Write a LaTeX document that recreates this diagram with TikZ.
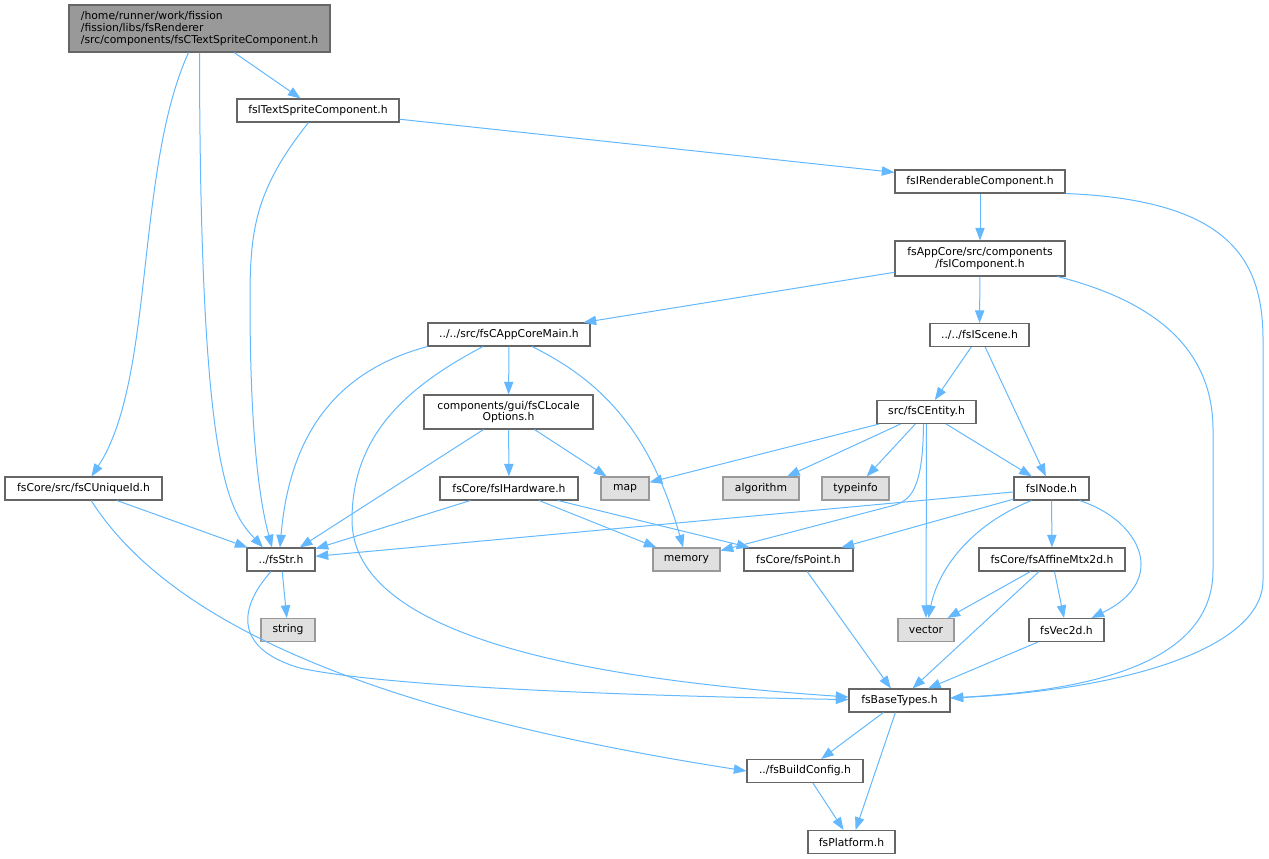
\documentclass[tikz,border=0pt]{standalone}
\usepackage{fontspec}
\setmainfont{DejaVu Sans}
\usetikzlibrary{arrows.meta,calc}
\definecolor{edgeBlue}{HTML}{63B8FF}
\tikzset{
  hdr/.style={rectangle, draw=black!60, fill=white, line width=0.8pt, minimum height=17.25pt, inner sep=1pt, font=\fontsize{8.1}{8.8}\selectfont},
  sys/.style={hdr, draw=black!40, fill=black!12},
  inc/.style={-{Triangle[length=9.5pt,width=7pt]}, draw=edgeBlue, line width=0.75pt},
}
\begin{document}
\begin{tikzpicture}[x=0.75pt,y=-0.75pt]
\useasboundingbox (0,0) rectangle (1269,859);

% files
\node[hdr, fill=black!40, minimum width=195.75pt, minimum height=35.25pt, align=left] (main) at (199.5,28.5) {/home/runner/work/fission\\/fission/libs/fsRenderer\\/src/components/fsCTextSpriteComponent.h};
\node[hdr, minimum width=121.5pt] (textSprite) at (318,110.5) {fsITextSpriteComponent.h};
\node[hdr, minimum width=127.5pt] (renderable) at (980,181.5) {fsIRenderableComponent.h};
\node[hdr, minimum width=127.5pt, minimum height=26.25pt, align=center] (component) at (980,258.5) {fsAppCore/src/components\\/fsIComponent.h};
\node[hdr, minimum width=74.25pt] (scene) at (979.5,335) {../../fsIScene.h};
\node[hdr, minimum width=121.5pt] (appCoreMain) at (509,334.5) {../../src/fsCAppCoreMain.h};
\node[hdr, minimum width=126.75pt, minimum height=25.5pt, align=center] (localeOpts) at (508.5,412) {components/gui/fsCLocale\\Options.h};
\node[hdr, minimum width=74.25pt] (entity) at (926.5,412) {src/fsCEntity.h};
\node[hdr, minimum width=103.5pt] (hardware) at (509,488.5) {fsCore/fsIHardware.h};
\node[sys, minimum width=36pt] (map) at (625,488.5) {map};
\node[sys, minimum width=57pt] (algorithm) at (761,488.5) {algorithm};
\node[sys, minimum width=50.25pt] (typeinfo) at (855.5,488.5) {typeinfo};
\node[hdr, minimum width=56.25pt] (inode) at (1051.5,488.5) {fsINode.h};
\node[hdr, minimum width=117.75pt] (uniqueId) at (83.5,488.5) {fsCore/src/fsCUniqueId.h};
\node[hdr, minimum width=51pt] (str) at (281,559.5) {../fsStr.h};
\node[sys, minimum width=50.25pt] (memory) at (686.5,559.5) {memory};
\node[hdr, minimum width=81.75pt] (point) at (798.5,559.5) {fsCore/fsPoint.h};
\node[hdr, minimum width=109.5pt] (affine) at (1052,559.5) {fsCore/fsAffineMtx2d.h};
\node[sys, minimum width=40.5pt] (string) at (288,630) {string};
\node[sys, minimum width=42pt] (vector) at (926,630) {vector};
\node[hdr, minimum width=56.25pt] (vec2d) at (1066.5,630) {fsVec2d.h};
\node[hdr, minimum width=75.75pt] (baseTypes) at (899.5,700.5) {fsBaseTypes.h};
\node[hdr, minimum width=87pt] (buildConfig) at (805,771) {../fsBuildConfig.h};
\node[hdr, minimum width=65.25pt] (platform) at (851.5,842) {fsPlatform.h};

% includes
\draw[inc] (main) -- (textSprite);
\draw[inc] (main.south) .. controls (200,470) and (228,510) .. ($(str.north)+(-18,0)$);
\draw[inc] (main) .. controls (135,170) and (155,380) .. (uniqueId);
\draw[inc] (textSprite) .. controls (255,190) and (250,230) .. (250,300) .. controls (250,450) and (262,510) .. ($(str.north)+(-9,0)$);
\draw[inc] (textSprite) -- (renderable);
\draw[inc] (renderable) -- (component);
\draw[inc] (renderable.south east) .. controls (1230,200) and (1263,260) .. (1263,340) -- (1263,580) .. controls (1263,650) and (1120,690) .. (baseTypes);
\draw[inc] (component) -- (appCoreMain);
\draw[inc] (component) -- (scene);
\draw[inc] ($(component.south east)+(-8,0)$) .. controls (1170,305) and (1213,360) .. (1213,430) -- (1213,570) .. controls (1213,660) and (1100,690) .. (baseTypes);
\draw[inc] (appCoreMain.south west) .. controls (340,370) and (290,430) .. ($(str.north)+(-1,0)$);
\draw[inc] (appCoreMain) -- (localeOpts);
\draw[inc] ($(appCoreMain.south)+(-26,0)$) .. controls (400,390) and (352,440) .. (352,520) .. controls (352,640) and (600,680) .. (baseTypes);
\draw[inc] ($(appCoreMain.south)+(23,0)$) .. controls (600,380) and (650,430) .. (memory);
\draw[inc] ($(localeOpts.south)+(-25,0)$) -- (str);
\draw[inc] (localeOpts) -- (hardware);
\draw[inc] ($(localeOpts.south)+(26,0)$) -- (map);
\draw[inc] (hardware) -- (str);
\draw[inc] (hardware) -- (memory);
\draw[inc] (hardware) -- (point);
\draw[inc] (scene) -- (entity);
\draw[inc] (scene) -- (inode);
\draw[inc] (entity) -- (map);
\draw[inc] (entity) -- (algorithm);
\draw[inc] (entity) -- (typeinfo);
\draw[inc] (entity) -- (inode);
\draw[inc] (entity) -- (vector);
\draw[inc] ($(entity.south)+(-3,0)$) .. controls (923,490) and (910,500) .. (895,505) -- (memory);
\draw[inc] (inode) -- (str);
\draw[inc] (inode) -- (point);
\draw[inc] ($(inode.south)+(-20,0)$) .. controls (970,525) and (938,570) .. (vector);
\draw[inc] (inode) -- (affine);
\draw[inc] ($(inode.south east)+(-10,0)$) .. controls (1140,520) and (1170,580) .. (vec2d);
\draw[inc] (affine) -- (vector);
\draw[inc] (affine) -- (vec2d);
\draw[inc] (affine) -- (baseTypes);
\draw[inc] (point) -- (baseTypes);
\draw[inc] (vec2d) -- (baseTypes);
\draw[inc] (uniqueId) -- (str);
\draw[inc] (uniqueId) .. controls (180,640) and (420,720) .. (buildConfig.west);
\draw[inc] (str) -- (string);
\draw[inc] ($(str.south)+(-10,0)$) .. controls (235,612) and (238,650) .. (300,668) .. controls (400,690) and (700,697) .. (baseTypes);
\draw[inc] (baseTypes) -- (buildConfig);
\draw[inc] (baseTypes) -- (platform);
\draw[inc] (buildConfig) -- (platform);
\end{tikzpicture}
\end{document}
